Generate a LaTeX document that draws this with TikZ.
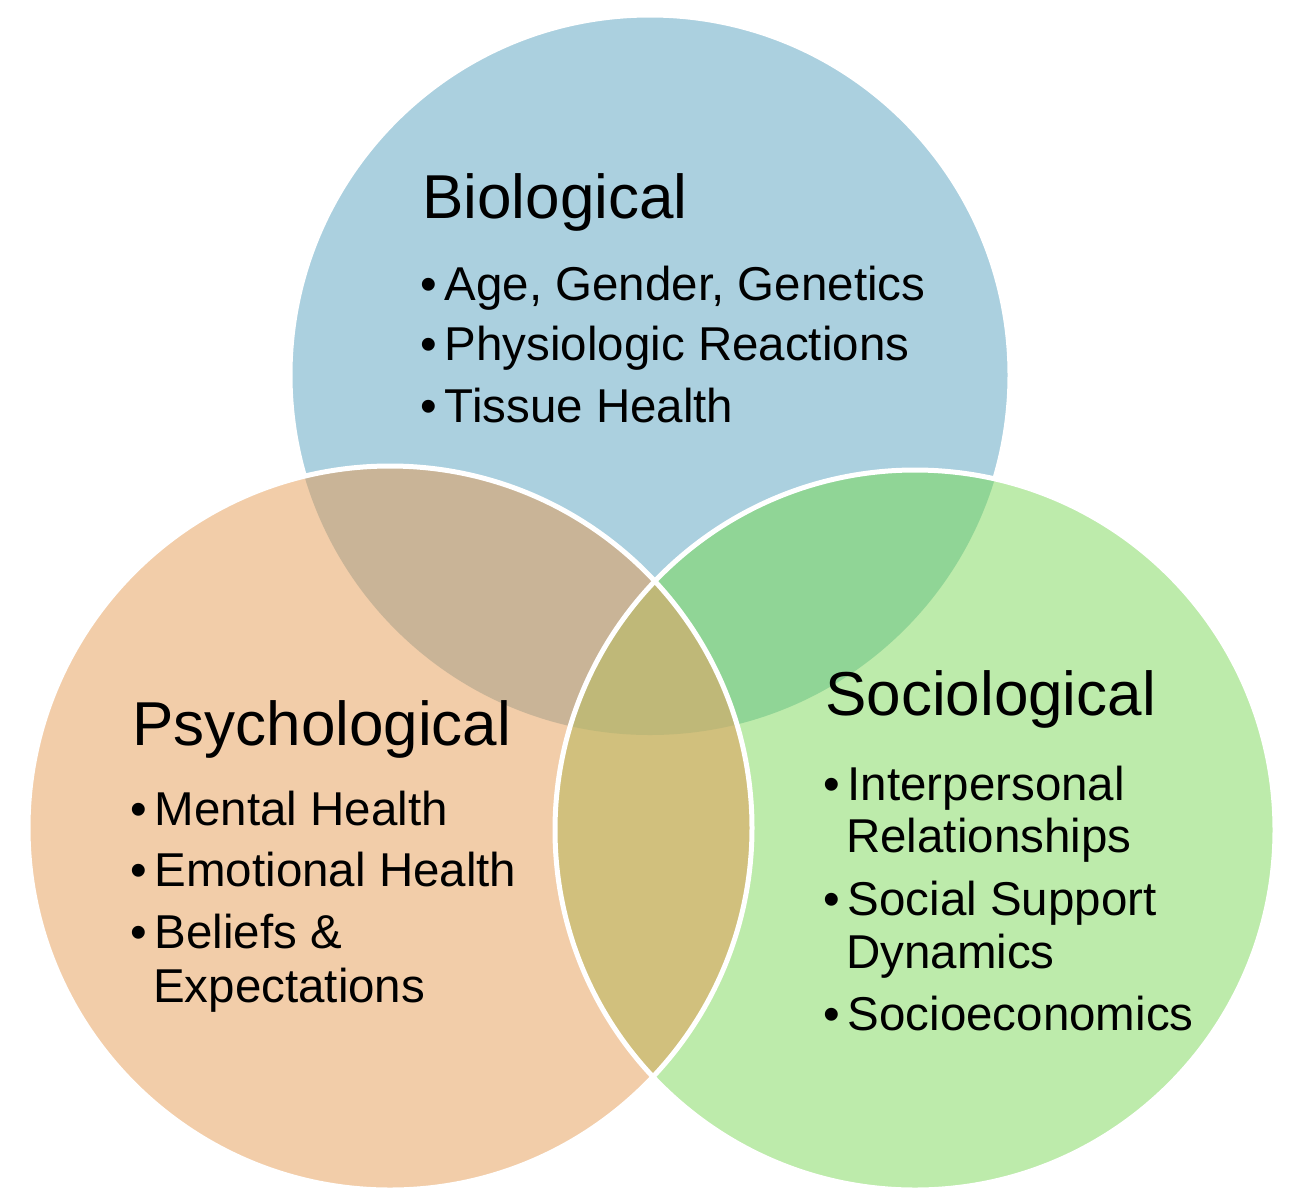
\documentclass[tikz,border=0pt]{standalone}
\usepackage{fontspec}
\setmainfont{Liberation Sans}
\definecolor{cblue}{HTML}{ABD0DF}
\definecolor{corange}{HTML}{F2CDA9}
\definecolor{cgreen}{HTML}{BDEBAB}
\definecolor{cbo}{HTML}{C9B497}
\definecolor{cbg}{HTML}{90D596}
\definecolor{cog}{HTML}{D1C07D}
\definecolor{call}{HTML}{BFB878}
\begin{document}
\begin{tikzpicture}[x=1pt,y=-1pt,
  head/.style={anchor=base west,font=\fontsize{62}{70}\selectfont,inner sep=0},
  item/.style={anchor=base west,font=\fontsize{47.5}{56}\selectfont,inner sep=0},
  ring/.style={draw=white,line width=5pt}]
\useasboundingbox (0,0) rectangle (1290,1200);
\fill[white] (0,0) rectangle (1290,1200);
\def\B{(650,375) circle (360)}
\def\O{(390,828) circle (362)}
\def\G{(915,830) circle (360)}
\fill[cblue] \B; \draw[ring] \B;
\fill[corange] \O; \fill[cgreen] \G;
\begin{scope}\clip \B; \fill[cbo] \O; \fill[cbg] \G; \end{scope}
\begin{scope}\clip \O; \fill[cog] \G; \end{scope}
\begin{scope}\clip \B; \clip \O; \fill[call] \G; \end{scope}
\draw[ring] \O; \draw[ring] \G;
\node[head] (bh) at (422,218) {Biological};
\node[item] (b1) at (420,300) {•\,Age, Gender, Genetics};
\node[item] (b2) at (420,360) {•\,Physiologic Reactions};
\node[item] (b3) at (420,422) {•\,Tissue Health};
\node[head] (ph) at (132,745) {Psychological};
\node[item] (p1) at (130,825) {•\,Mental Health};
\node[item] (p2) at (130,886) {•\,Emotional Health};
\node[item] (p3) at (130,948) {•\,Beliefs \&};
\node[item] (p4) at (153,1002) {Expectations};
\node[head] (sh) at (825,715) {Sociological};
\node[item] (s1) at (823,800) {•\,Interpersonal};
\node[item] (s2) at (846,852) {Relationships};
\node[item] (s3) at (823,915) {•\,Social Support};
\node[item] (s4) at (846,968) {Dynamics};
\node[item] (s5) at (823,1030) {•\,Socioeconomics};
\end{tikzpicture}
\end{document}
